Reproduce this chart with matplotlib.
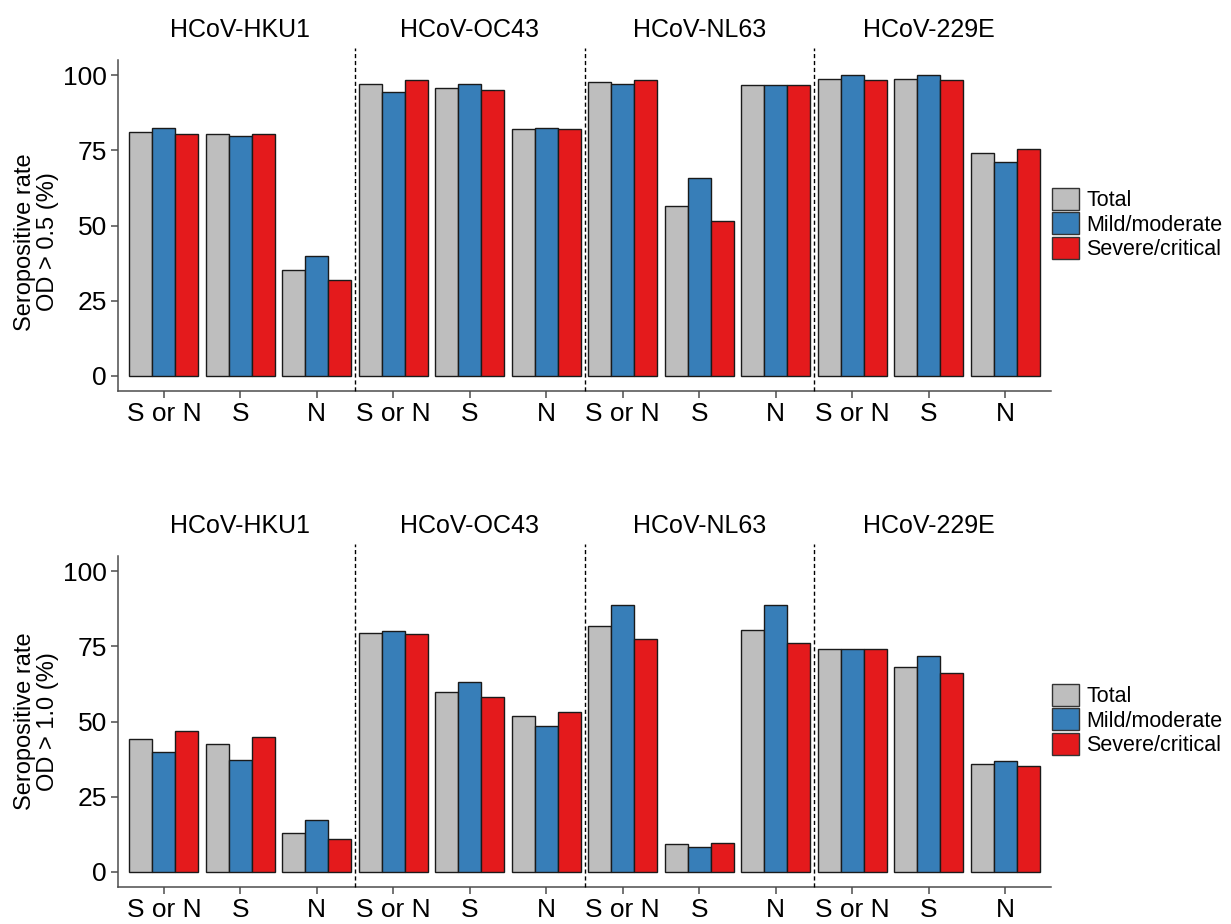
import matplotlib
matplotlib.use("Agg")
import matplotlib.pyplot as plt
from matplotlib.patches import Patch
import numpy as np

plt.rcParams['font.family'] = ['Liberation Sans', 'DejaVu Sans']

viruses = ["HCoV-HKU1", "HCoV-OC43", "HCoV-NL63", "HCoV-229E"]
antigens = ["S or N", "S", "N"]
groups = ["Total", "Mild/moderate", "Severe/critical"]
colors = ["#BEBEBE", "#377EB8", "#E41A1C"]

# Seropositive rate (%) at OD > 0.5; per virus: [S or N, S, N]
total_05 = [81.2, 80.3, 35.1, 96.9, 95.6, 82.1, 97.8, 56.5, 96.8, 98.7, 98.7, 74.2]
mild_05 = [82.5, 79.7, 39.9, 94.4, 96.9, 82.5, 97.0, 65.7, 96.8, 100.0, 100.0, 71.2]
severe_05 = [80.3, 80.3, 32.0, 98.2, 95.1, 82.1, 98.2, 51.6, 96.6, 98.2, 98.2, 75.5]

# Seropositive rate (%) at OD > 1.0
total_10 = [44.2, 42.6, 13.1, 79.4, 59.8, 51.7, 81.7, 9.2, 80.4, 74.2, 68.2, 35.8]
mild_10 = [39.9, 37.1, 17.1, 80.2, 63.0, 48.4, 88.7, 8.3, 88.7, 74.2, 71.7, 37.0]
severe_10 = [46.7, 44.9, 10.8, 79.0, 58.2, 53.2, 77.3, 9.7, 76.0, 74.2, 66.0, 35.3]

panels = [
    ("Seropositive rate\nOD > 0.5 (%)", [total_05, mild_05, severe_05]),
    ("Seropositive rate\nOD > 1.0 (%)", [total_10, mild_10, severe_10]),
]

W, H = 1231, 924
fig = plt.figure(figsize=(W / 100, H / 100), dpi=100)

ax_left = 118 / W
ax_width = 933 / W
ax_height = 331 / H
bottoms = [(H - 391) / H, (H - 887) / H]
legend_y = [1 - 224 / H, 1 - 720 / H]
label_y = [0.45, 0.5]

n_cat = len(viruses) * len(antigens)
x = np.arange(n_cat)
bw = 0.3
spine_col = "#4D4D4D"

for (ylabel, series), bottom, ly, lab_y in zip(panels, bottoms, legend_y, label_y):
    ax = fig.add_axes([ax_left, bottom, ax_width, ax_height])
    for i, (vals, col) in enumerate(zip(series, colors)):
        ax.bar(x + (i - 1) * bw, vals, width=bw, color=col,
               edgecolor="#1a1a1a", linewidth=1.0, zorder=2)
    ax.set_xlim(-0.6, n_cat - 0.4)
    ax.set_ylim(-5, 105)
    ax.set_yticks([0, 25, 50, 75, 100])
    ax.set_xticks(x)
    ax.set_xticklabels(antigens * len(viruses))
    ax.tick_params(axis="both", labelsize=19, color=spine_col, length=5,
                   width=1.1, labelcolor="black", pad=3)
    for s in ["top", "right"]:
        ax.spines[s].set_visible(False)
    for s in ["left", "bottom"]:
        ax.spines[s].set_color(spine_col)
        ax.spines[s].set_linewidth(1.1)
    ax.set_ylabel(ylabel, fontsize=17, linespacing=1.1)
    ax.yaxis.set_label_coords(-0.063, lab_y)

    # dashed separators between viruses
    for k in range(1, len(viruses)):
        xs = k * len(antigens) - 0.5
        ax.plot([xs, xs], [0, 1.036], transform=ax.get_xaxis_transform(),
                color="black", linestyle=(0, (3, 2)), linewidth=1.0,
                clip_on=False, zorder=3)

    # virus titles above each section
    for k, v in enumerate(viruses):
        ax.text(k * len(antigens) + 1, 1.09, v, transform=ax.get_xaxis_transform(),
                ha="center", va="center", fontsize=18)

    handles = [Patch(facecolor=c, edgecolor="#333333", linewidth=1.0) for c in colors]
    fig.legend(handles, groups, loc="center left", bbox_to_anchor=(1057 / W - 0.004, ly),
               frameon=False, fontsize=15.5, handlelength=1.25, handleheight=1.2,
               handletextpad=0.35, labelspacing=0.05, borderpad=0, borderaxespad=0)

fig.savefig("out.png", dpi=100)
